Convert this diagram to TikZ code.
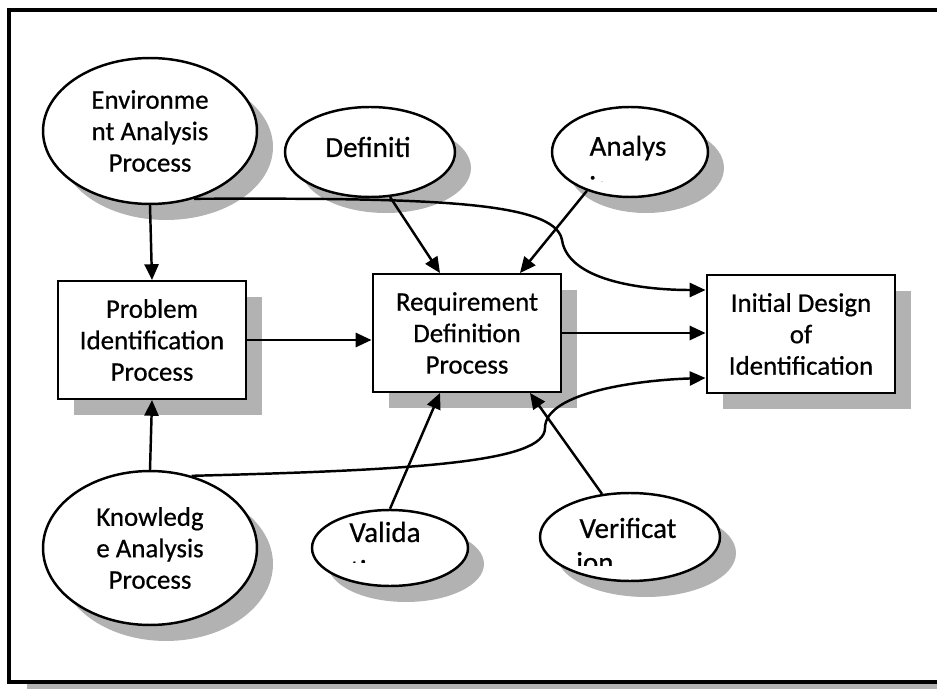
\documentclass[tikz,border=0pt]{standalone}
\usepackage{fontspec}
\setmainfont{Carlito}[FakeBold=0.6]
\usepackage{tikz}
\usetikzlibrary{shapes,arrows.meta,positioning,calc,shadows}

\begin{document}
\begin{tikzpicture}[x=0.02cm, y=-0.02cm,
    shade/.style={drop shadow={shadow xshift=.32cm, shadow yshift=-.32cm, fill=black!30, opacity=1}},
    procbox/.style={draw, line width=1.4pt, fill=white, shade, minimum width=3.77cm, minimum height=2.35cm, align=center, inner sep=0pt},
    oval/.style={ellipse, draw, line width=1.4pt, fill=white, shade, align=center, inner sep=0pt},
    lbl/.style={inner sep=0pt, align=center, font=\fontsize{16.5}{18}\selectfont},
    conn/.style={line width=1.4pt, -{Triangle[length=9pt,width=8pt]}},
    font=\fontsize{15.3}{17.9}\selectfont]
    \path[use as bounding box, clip] (0,0) rectangle (937,689);

    % Frame
    \fill[black!30] (27,28) rectangle (960,700);
    \draw[line width=2pt, fill=white] (9,10) rectangle (950,682);

    % Process boxes
    \node[procbox] (prob) at (152,340) {Problem\\Identification\\Process};
    \node[procbox] (req) at (467,333) {Requirement\\Definition\\Process};
    \node[procbox] (init) at (801,334) {Initial Design\\of\\Identification};

    % Analysis ovals
    \node[oval, minimum width=4.28cm, minimum height=2.92cm] (env) at (150,131) {Environme\\nt Analysis\\Process};
    \node[oval, minimum width=4.28cm, minimum height=3.08cm] (know) at (150,548) {Knowledg\\e Analysis\\Process};

    % Small ovals
    \node[oval, minimum width=3.4cm, minimum height=1.8cm] (def) at (370,152) {};
    \node[oval, minimum width=3.12cm, minimum height=1.8cm] (ana) at (630,152) {};
    \node[oval, minimum width=3.12cm, minimum height=1.52cm] (val) at (390,548) {};
    \node[oval, minimum width=3.6cm, minimum height=1.76cm] (ver) at (630,537) {};

    \node[lbl] (deflbl) at (368,147) {Definiti};
    \node[lbl] (analbl) at (628,148) {Analys};
    \node[lbl] (vallbl) at (385,532) {Valida};
    \node[lbl] (verlbl) at (628,528) {Verificat};

    % cut-off second lines
    \begin{scope}
        \clip (560,172) rectangle (700,182);
        \node[lbl, anchor=base west] (anarest) at (589,196) {is};
    \end{scope}
    \begin{scope}
        \clip (312,555) rectangle (467,562);
        \node[lbl, anchor=base west] (valrest) at (350,580) {tion};
    \end{scope}
    \begin{scope}
        \clip (545,545) rectangle (715,565);
        \node[lbl, anchor=base west] (verrest) at (576,572) {ion};
    \end{scope}

    % Straight connectors
    \draw[conn] (env.south) -- (prob.north);
    \draw[conn] (know.north) -- (prob.south);
    \draw[conn] (prob.east) -- (prob.east -| req.west);
    \draw[conn] (req.east) -- (req.east -| init.west);
    \draw[conn] (def.-66) -- ([xshift=-0.54cm]req.north);
    \draw[conn] (ana.-138) -- ([xshift=1.06cm]req.north);
    \draw[conn] (val.north) -- ([xshift=-0.54cm]req.south);
    \draw[conn] (ver.123) -- ([xshift=1.26cm]req.south);

    % Curved connectors
    \draw[conn] (env.-57) .. controls (420,198) and (555,200) .. (562,240)
        .. controls (568,280) and (640,290) .. ([yshift=0.88cm]init.west);
    \draw[conn] (know.60) .. controls (420,470) and (545,462) .. (545,428)
        .. controls (545,392) and (640,380) .. ([yshift=-0.88cm]init.west);

\end{tikzpicture}
\end{document}
